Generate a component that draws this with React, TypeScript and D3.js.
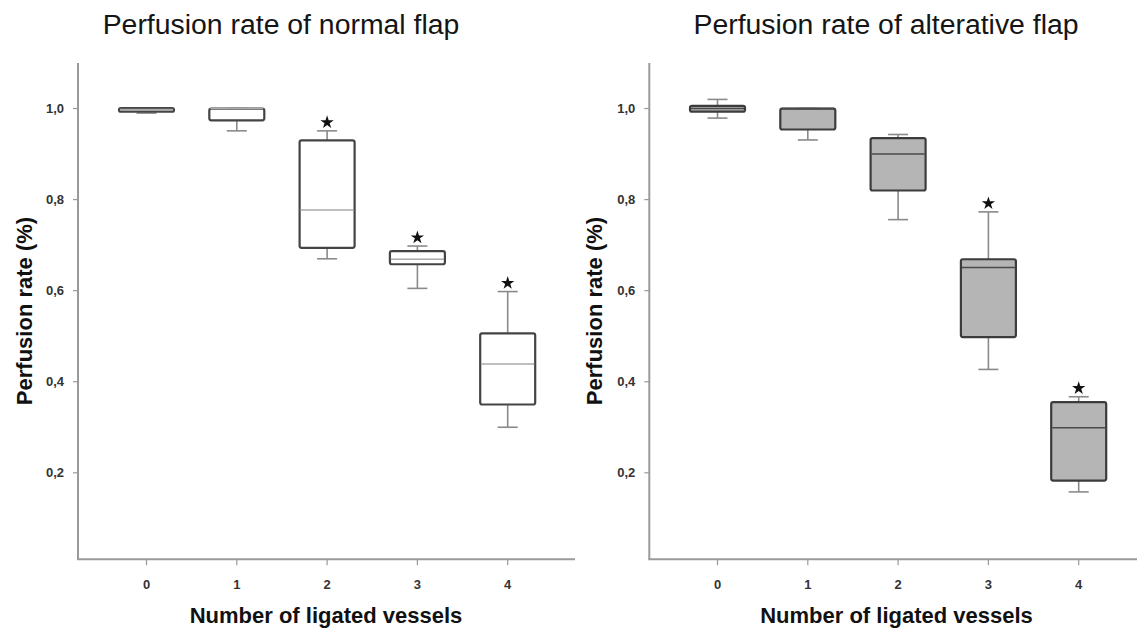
import React from "react";
import * as d3 from "d3";

const categories = ["0", "1", "2", "3", "4"];
const yTicks = [0.2, 0.4, 0.6, 0.8, 1.0];

const normalLow = [0.99, 0.951, 0.67, 0.605, 0.3];
const normalQ1 = [0.993, 0.974, 0.694, 0.658, 0.35];
const normalMed = [0.998, 1.0, 0.777, 0.669, 0.439];
const normalQ3 = [1.001, 1.0, 0.93, 0.687, 0.506];
const normalHigh = [1.001, 1.0, 0.951, 0.698, 0.598];
const normalSig = [false, false, true, true, true];

const altLow = [0.979, 0.931, 0.756, 0.427, 0.158];
const altQ1 = [0.993, 0.954, 0.82, 0.498, 0.183];
const altMed = [1.0, 1.0, 0.9, 0.651, 0.299];
const altQ3 = [1.006, 1.0, 0.935, 0.669, 0.355];
const altHigh = [1.02, 1.0, 0.943, 0.773, 0.367];
const altSig = [false, false, false, true, true];

const FONT = "'Liberation Sans', Arial, Helvetica, sans-serif";

type PanelProps = {
  title: string;
  titleX: number;
  axisX: number;
  axisEnd: number;
  xZero: number;
  step: number;
  yLabelX: number;
  xLabelX: number;
  low: number[];
  q1: number[];
  med: number[];
  q3: number[];
  high: number[];
  sig: boolean[];
  fill: string;
  stroke: string;
  medStroke: string;
};

function Panel(p: PanelProps) {
  const y = d3.scaleLinear().domain([0.01, 1.1]).range([559.3, 63]);
  const x = d3
    .scaleLinear()
    .domain([0, 4])
    .range([p.xZero, p.xZero + 4 * p.step]);
  const boxW = 55;
  const capW = 20;
  const star = d3.symbol().type(d3.symbolStar).size(55)() as string;
  const fmt = (v: number) => d3.format(".1f")(v).replace(".", ",");
  const axisY = y(0.01);
  return (
    <g>
      <text
        x={p.titleX}
        y={34}
        textAnchor="middle"
        fontFamily={FONT}
        fontSize={28.4}
        fill="#151515"
      >
        {p.title}
      </text>
      {/* axes */}
      <line x1={p.axisX} x2={p.axisX} y1={y(1.1)} y2={axisY} stroke="#9a9a9a" strokeWidth={2} />
      <line x1={p.axisX - 1} x2={p.axisEnd} y1={axisY} y2={axisY} stroke="#9a9a9a" strokeWidth={2} />
      {yTicks.map((t) => (
        <g key={t}>
          <line x1={p.axisX - 5} x2={p.axisX} y1={y(t)} y2={y(t)} stroke="#9a9a9a" strokeWidth={1.2} />
          <text
            x={p.axisX - 14}
            y={y(t)}
            dy="0.35em"
            textAnchor="end"
            fontFamily={FONT}
            fontWeight="bold"
            fontSize={13}
            fill="#333"
          >
            {fmt(t)}
          </text>
        </g>
      ))}
      {categories.map((c, i) => (
        <g key={c}>
          <line x1={x(i)} x2={x(i)} y1={axisY} y2={axisY + 6} stroke="#9a9a9a" strokeWidth={1.2} />
          <text
            x={x(i)}
            y={axisY + 25}
            dy="0.35em"
            textAnchor="middle"
            fontFamily={FONT}
            fontWeight="bold"
            fontSize={13}
            fill="#333"
          >
            {c}
          </text>
        </g>
      ))}
      <text
        transform={`translate(${p.yLabelX},311) rotate(-90)`}
        textAnchor="middle"
        fontFamily={FONT}
        fontWeight="bold"
        fontSize={22}
        fill="#111"
      >
        Perfusion rate (%)
      </text>
      <text
        x={p.xLabelX}
        y={623}
        textAnchor="middle"
        fontFamily={FONT}
        fontWeight="bold"
        fontSize={22}
        fill="#111"
      >
        Number of ligated vessels
      </text>
      {/* boxes */}
      {categories.map((c, i) => {
        const cx = x(i);
        return (
          <g key={"b" + c}>
            <line x1={cx} x2={cx} y1={y(p.high[i])} y2={y(p.q3[i])} stroke="#8a8a8a" strokeWidth={1.6} />
            <line x1={cx} x2={cx} y1={y(p.q1[i])} y2={y(p.low[i])} stroke="#8a8a8a" strokeWidth={1.6} />
            <line x1={cx - capW / 2} x2={cx + capW / 2} y1={y(p.high[i])} y2={y(p.high[i])} stroke="#8a8a8a" strokeWidth={1.6} />
            <line x1={cx - capW / 2} x2={cx + capW / 2} y1={y(p.low[i])} y2={y(p.low[i])} stroke="#8a8a8a" strokeWidth={1.6} />
            <rect
              x={cx - boxW / 2}
              y={y(p.q3[i])}
              width={boxW}
              height={Math.max(1, y(p.q1[i]) - y(p.q3[i]))}
              rx={2}
              fill={p.fill}
              stroke={p.stroke}
              strokeWidth={2.2}
            />
            <line x1={cx - boxW / 2 + 1} x2={cx + boxW / 2 - 1} y1={y(p.med[i])} y2={y(p.med[i])} stroke={p.medStroke} strokeWidth={1.6} />
            {p.sig[i] && (
              <path d={star} transform={`translate(${cx},${y(p.high[i]) - 8.5})`} fill="#111" />
            )}
          </g>
        );
      })}
    </g>
  );
}

export default function App() {
  return (
    <svg
      width={1137}
      height={629}
      style={{ position: "absolute", left: 0, top: 0, background: "#fff" }}
    >
      <rect width={1137} height={629} fill="#fff" />
      <Panel
        title="Perfusion rate of normal flap"
        titleX={281}
        axisX={78}
        axisEnd={575}
        xZero={146.5}
        step={90.3}
        yLabelX={32}
        xLabelX={326}
        low={normalLow}
        q1={normalQ1}
        med={normalMed}
        q3={normalQ3}
        high={normalHigh}
        sig={normalSig}
        fill="#ffffff"
        stroke="#444"
        medStroke="#a8a8a8"
      />
      <Panel
        title="Perfusion rate of alterative flap"
        titleX={886}
        axisX={649.3}
        axisEnd={1137}
        xZero={717.5}
        step={90.3}
        yLabelX={602}
        xLabelX={896.5}
        low={altLow}
        q1={altQ1}
        med={altMed}
        q3={altQ3}
        high={altHigh}
        sig={altSig}
        fill="#b5b5b5"
        stroke="#3c3c3c"
        medStroke="#4a4a4a"
      />
    </svg>
  );
}
